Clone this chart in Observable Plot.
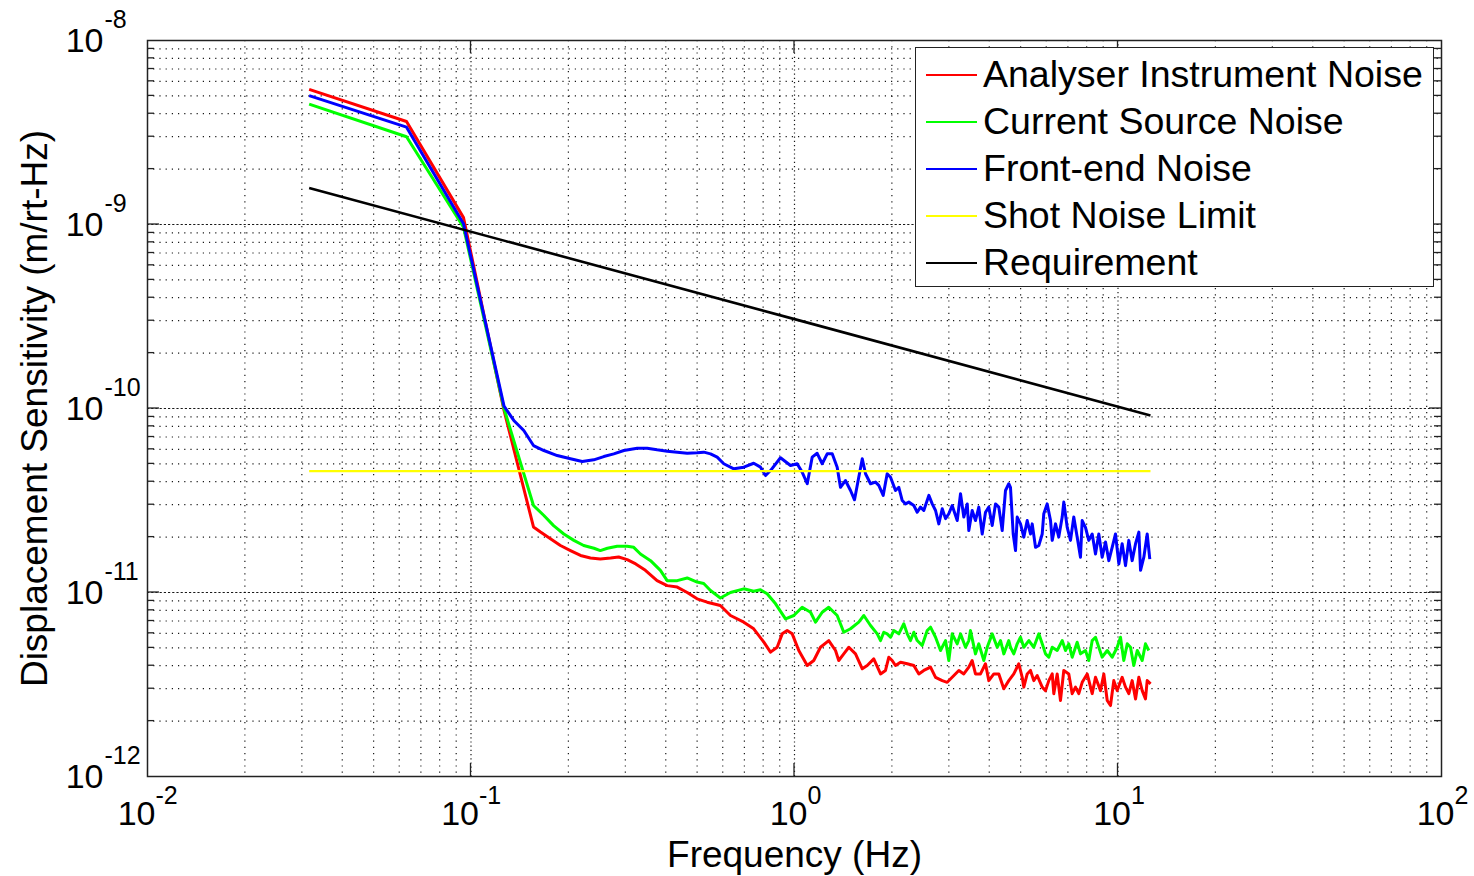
<!DOCTYPE html>
<html>
<head>
<meta charset="utf-8">
<script src="https://cdn.jsdelivr.net/npm/d3@7"></script>
<script src="https://cdn.jsdelivr.net/npm/@observablehq/plot@0.6"></script>
<style>
html,body{margin:0;padding:0;background:#fff;}
#wrap{position:relative;width:1474px;height:876px;font-family:"Liberation Sans",Arial,sans-serif;}
#legend{position:absolute;left:915px;top:47px;width:519px;height:240px;box-sizing:border-box;background:#fff;border:1.5px solid #222;padding-top:3px;}
.row{height:47px;line-height:47px;position:relative;font-size:37.5px;color:#000;white-space:nowrap;}
.row .sw{position:absolute;left:10px;top:23px;width:51px;height:2px;}
.row .lb{position:absolute;left:67px;top:0;}
</style>
</head>
<body>
<div id="wrap"></div>
<script>
// ---- data (frequency in Hz, sensitivity in m/rt-Hz) ----
const seriesNames = ["Analyser Instrument Noise","Current Source Noise","Front-end Noise","Shot Noise Limit","Requirement"];
const seriesColors = ["#ff0000","#00ff00","#0000ff","#ffff00","#000000"];

const analyserNoise = [[0.0316,5.42e-9],[0.0632,3.63e-9],[0.0948,1.09e-9],[0.1265,9.76e-11],[0.156,2.27e-11],[0.164,2.13e-11],[0.176,1.96e-11],[0.189,1.80e-11],[0.203,1.69e-11],[0.218,1.59e-11],[0.234,1.54e-11],[0.251,1.52e-11],[0.270,1.54e-11],[0.286,1.56e-11],[0.304,1.51e-11],[0.323,1.43e-11],[0.346,1.32e-11],[0.376,1.16e-11],[0.404,1.09e-11],[0.434,1.07e-11],[0.466,1.00e-11],[0.500,9.24e-12],[0.537,8.86e-12],[0.590,8.50e-12],[0.634,7.50e-12],[0.697,6.90e-12],[0.748,6.35e-12],[0.804,5.37e-12],[0.843,4.74e-12],[0.884,5.04e-12],[0.916,5.96e-12],[0.949,6.21e-12],[0.984,5.96e-12],[1.031,4.84e-12],[1.095,4.01e-12],[1.147,4.27e-12],[1.203,5.04e-12],[1.276,5.48e-12],[1.339,4.84e-12],[1.370,4.27e-12],[1.420,4.64e-12],[1.472,5.04e-12],[1.544,4.64e-12],[1.620,3.85e-12],[1.678,4.01e-12],[1.758,4.36e-12],[1.845,3.61e-12],[1.911,3.77e-12],[1.957,4.45e-12],[2.004,4.27e-12],[2.052,4.01e-12],[2.127,4.18e-12],[2.231,4.10e-12],[2.338,4.01e-12],[2.423,3.61e-12],[2.510,3.77e-12],[2.633,3.93e-12],[2.729,3.46e-12],[2.862,3.32e-12],[2.965,3.25e-12],[3.072,3.46e-12],[3.221,3.77e-12],[3.337,3.61e-12],[3.458,3.93e-12],[3.542,4.27e-12],[3.626,3.61e-12],[3.758,3.61e-12],[3.894,4.10e-12],[3.987,3.32e-12],[4.132,3.61e-12],[4.281,3.61e-12],[4.436,3.00e-12],[4.596,3.32e-12],[4.763,3.61e-12],[4.936,4.10e-12],[5.057,3.46e-12],[5.115,3.06e-12],[5.240,3.61e-12],[5.364,3.77e-12],[5.491,3.32e-12],[5.626,3.54e-12],[5.831,3.06e-12],[5.970,2.93e-12],[6.111,3.32e-12],[6.261,3.61e-12],[6.332,2.82e-12],[6.486,3.61e-12],[6.641,2.59e-12],[6.799,3.77e-12],[7.045,3.61e-12],[7.217,2.82e-12],[7.389,3.06e-12],[7.565,2.82e-12],[7.750,3.25e-12],[8.031,3.61e-12],[8.322,2.82e-12],[8.520,3.46e-12],[8.830,2.93e-12],[9.040,3.61e-12],[9.261,2.59e-12],[9.480,2.43e-12],[9.705,3.32e-12],[9.943,2.93e-12],[10.30,3.46e-12],[10.55,3.06e-12],[10.80,2.82e-12],[11.06,3.32e-12],[11.33,2.64e-12],[11.60,3.46e-12],[11.88,2.93e-12],[12.16,2.64e-12],[12.31,3.32e-12],[12.61,3.19e-12]];

const currentSourceNoise = [[0.0316,4.51e-9],[0.0632,3.0e-9],[0.0948,9.66e-10],[0.1265,1.0e-10],[0.156,2.97e-11],[0.168,2.62e-11],[0.180,2.31e-11],[0.1936,2.08e-11],[0.208,1.92e-11],[0.223,1.80e-11],[0.240,1.74e-11],[0.251,1.69e-11],[0.264,1.74e-11],[0.283,1.785e-11],[0.304,1.785e-11],[0.3185,1.76e-11],[0.334,1.62e-11],[0.359,1.49e-11],[0.385,1.32e-11],[0.404,1.16e-11],[0.434,1.16e-11],[0.466,1.20e-11],[0.500,1.14e-11],[0.524,1.12e-11],[0.550,1.025e-11],[0.590,9.33e-12],[0.634,1.00e-11],[0.697,1.047e-11],[0.748,1.016e-11],[0.785,1.034e-11],[0.823,9.84e-12],[0.874,8.68e-12],[0.938,7.19e-12],[0.995,7.50e-12],[1.056,8.32e-12],[1.121,7.81e-12],[1.161,6.90e-12],[1.218,7.81e-12],[1.276,8.32e-12],[1.355,7.50e-12],[1.420,6.08e-12],[1.490,6.35e-12],[1.580,6.90e-12],[1.638,7.50e-12],[1.718,6.62e-12],[1.802,5.96e-12],[1.845,5.48e-12],[1.888,6.08e-12],[1.934,5.96e-12],[1.981,5.71e-12],[2.028,6.21e-12],[2.101,5.96e-12],[2.177,6.76e-12],[2.231,5.96e-12],[2.284,5.48e-12],[2.338,6.08e-12],[2.395,5.48e-12],[2.481,5.15e-12],[2.572,6.21e-12],[2.633,6.48e-12],[2.729,5.71e-12],[2.827,4.84e-12],[2.930,5.48e-12],[2.999,4.27e-12],[3.072,5.96e-12],[3.184,5.26e-12],[3.260,5.96e-12],[3.378,5.04e-12],[3.458,5.48e-12],[3.499,6.21e-12],[3.626,4.64e-12],[3.713,5.26e-12],[3.848,4.27e-12],[3.942,5.04e-12],[4.084,5.96e-12],[4.233,5.04e-12],[4.334,5.48e-12],[4.436,4.64e-12],[4.596,5.48e-12],[4.652,5.04e-12],[4.763,4.64e-12],[4.880,5.26e-12],[4.996,5.71e-12],[5.115,5.04e-12],[5.302,5.48e-12],[5.491,5.04e-12],[5.691,5.96e-12],[5.831,5.26e-12],[5.970,4.64e-12],[6.111,4.45e-12],[6.261,5.04e-12],[6.486,4.84e-12],[6.722,5.48e-12],[6.882,4.84e-12],[7.045,5.26e-12],[7.217,4.45e-12],[7.478,5.37e-12],[7.656,4.64e-12],[7.933,4.84e-12],[8.122,4.27e-12],[8.322,5.48e-12],[8.520,5.71e-12],[8.722,5.04e-12],[8.935,4.45e-12],[9.261,4.84e-12],[9.594,4.45e-12],[9.943,5.04e-12],[10.18,5.71e-12],[10.42,4.27e-12],[10.68,5.26e-12],[10.93,5.04e-12],[11.19,4.01e-12],[11.47,4.84e-12],[11.88,4.27e-12],[12.16,5.26e-12],[12.45,4.84e-12]];

const frontEndNoise = [[0.0316,5.02e-9],[0.0632,3.38e-9],[0.0948,1.01e-9],[0.1265,1.03e-10],[0.1356,8.61e-11],[0.1456,7.59e-11],[0.156,6.29e-11],[0.168,5.91e-11],[0.1847,5.55e-11],[0.203,5.33e-11],[0.2207,5.15e-11],[0.2396,5.26e-11],[0.2573,5.48e-11],[0.2763,5.67e-11],[0.2968,5.91e-11],[0.3264,6.08e-11],[0.3504,6.08e-11],[0.376,5.96e-11],[0.404,5.86e-11],[0.434,5.79e-11],[0.466,5.71e-11],[0.500,5.74e-11],[0.5244,5.79e-11],[0.550,5.67e-11],[0.5768,5.44e-11],[0.6045,5.01e-11],[0.6494,4.70e-11],[0.697,4.80e-11],[0.748,5.04e-11],[0.785,4.80e-11],[0.8138,4.32e-11],[0.843,4.60e-11],[0.905,5.40e-11],[0.972,4.90e-11],[1.019,5.01e-11],[1.056,4.51e-11],[1.095,3.90e-11],[1.134,5.44e-11],[1.175,5.71e-11],[1.218,5.01e-11],[1.262,5.67e-11],[1.308,5.67e-11],[1.355,4.80e-11],[1.387,3.73e-11],[1.437,4.06e-11],[1.490,3.585e-11],[1.533,3.19e-11],[1.580,4.23e-11],[1.620,5.33e-11],[1.658,4.42e-11],[1.718,3.90e-11],[1.780,3.98e-11],[1.822,3.82e-11],[1.880,3.37e-11],[1.934,4.42e-11],[1.981,4.23e-11],[2.052,3.585e-11],[2.101,3.73e-11],[2.153,3.16e-11],[2.204,3.03e-11],[2.256,3.10e-11],[2.338,2.97e-11],[2.395,2.73e-11],[2.452,2.91e-11],[2.510,2.79e-11],[2.602,3.37e-11],[2.665,3.03e-11],[2.729,2.79e-11],[2.793,2.36e-11],[2.862,2.85e-11],[2.930,2.52e-11],[2.999,2.68e-11],[3.072,2.97e-11],[3.184,2.46e-11],[3.260,3.44e-11],[3.337,2.57e-11],[3.420,3.03e-11],[3.458,2.17e-11],[3.542,2.79e-11],[3.626,2.46e-11],[3.713,2.91e-11],[3.804,2.08e-11],[3.894,2.73e-11],[3.987,2.91e-11],[4.084,2.31e-11],[4.182,3.03e-11],[4.281,2.91e-11],[4.386,2.17e-11],[4.490,3.585e-11],[4.596,3.90e-11],[4.652,3.73e-11],[4.743,2.08e-11],[4.822,1.69e-11],[4.880,2.57e-11],[4.996,2.36e-11],[5.115,2.00e-11],[5.240,2.46e-11],[5.364,2.08e-11],[5.43,2.36e-11],[5.559,1.76e-11],[5.691,1.80e-11],[5.831,2.08e-11],[5.897,2.68e-11],[6.04,3.03e-11],[6.186,2.46e-11],[6.261,1.92e-11],[6.41,2.36e-11],[6.56,2.00e-11],[6.722,2.57e-11],[6.799,3.10e-11],[6.966,2.26e-11],[7.132,1.92e-11],[7.30,2.57e-11],[7.478,2.00e-11],[7.656,1.555e-11],[7.750,2.46e-11],[7.933,2.26e-11],[8.122,1.92e-11],[8.322,2.08e-11],[8.520,1.62e-11],[8.722,2.08e-11],[8.935,1.555e-11],[9.15,1.88e-11],[9.368,1.49e-11],[9.594,1.76e-11],[9.824,2.08e-11],[10.06,1.43e-11],[10.30,1.84e-11],[10.55,1.40e-11],[10.80,1.92e-11],[11.06,1.49e-11],[11.33,1.84e-11],[11.60,2.13e-11],[11.74,1.32e-11],[12.02,1.555e-11],[12.31,2.08e-11],[12.54,1.52e-11]];

const shotNoiseLimit = [[0.0316,4.57e-11],[12.6,4.57e-11]];
const requirement = [[0.0316,1.58e-9],[1,3.06e-10],[12.6,9.16e-11]];

const xTickValues = [0.01,0.1,1,10,100];
const yTickValues = [1e-12,1e-11,1e-10,1e-9,1e-8];
const xLabel = "Frequency (Hz)";
const yLabel = "Displacement Sensitivity (m/rt-Hz)";

// ---- grid positions (2..9 x each decade) ----
const mult = [2,3,4,5,6,7,8,9];
const xMinor = [], yMinor = [];
for (let e = -2; e <= 1; e++) for (const m of mult) xMinor.push(m * Math.pow(10, e));
for (let e = -12; e <= -9; e++) for (const m of mult) yMinor.push(m * Math.pow(10, e));
const xMajorInner = [0.1, 1, 10];
const yMajorInner = [1e-11, 1e-10, 1e-9];
const expo = d => String(Math.round(Math.log10(d)));

const font = "Liberation Sans, Arial, Helvetica, sans-serif";
const series = [analyserNoise, currentSourceNoise, frontEndNoise, shotNoiseLimit, requirement];
const widths = [3, 3, 3, 2.2, 2.6];

const chart = Plot.plot({
  width: 1474,
  height: 876,
  marginLeft: 147,
  marginRight: 33,
  marginTop: 40,
  marginBottom: 100,
  x: {type: "log", domain: [0.01, 100], axis: null},
  y: {type: "log", domain: [1e-12, 1e-8], axis: null},
  style: {fontFamily: font, background: "#fff", color: "#000", overflow: "visible"},
  marks: [
    Plot.ruleX(xMinor, {x: d => d, stroke: "#000", strokeOpacity: 0.9, strokeWidth: 1.2, strokeDasharray: "1.2,5"}),
    Plot.ruleY(yMinor, {y: d => d, stroke: "#000", strokeOpacity: 0.9, strokeWidth: 1.2, strokeDasharray: "1.2,5"}),
    Plot.ruleX(xMajorInner, {x: d => d, stroke: "#000", strokeOpacity: 0.9, strokeWidth: 1.2, strokeDasharray: "1.2,3"}),
    Plot.ruleY(yMajorInner, {y: d => d, stroke: "#000", strokeOpacity: 0.9, strokeWidth: 1.2, strokeDasharray: "2.2,2"}),
    ...series.map((s, i) => Plot.line(s, {x: d => d[0], y: d => d[1], stroke: seriesColors[i], strokeWidth: widths[i], strokeLinejoin: "round", strokeLinecap: "butt"})),
    Plot.frame({stroke: "#222", strokeWidth: 1.5}),
    // x tick labels
    Plot.text(xTickValues.filter(d => d < 1), {x: d => d, frameAnchor: "bottom", text: () => "10", textAnchor: "end", dx: 8, dy: 48, fontSize: 34}),
    Plot.text(xTickValues.filter(d => d >= 1), {x: d => d, frameAnchor: "bottom", text: () => "10", textAnchor: "end", dx: 13, dy: 48, fontSize: 34}),
    Plot.text(xTickValues.filter(d => d < 1), {x: d => d, frameAnchor: "bottom", text: expo, textAnchor: "start", dx: 8, dy: 27, fontSize: 25}),
    Plot.text(xTickValues.filter(d => d >= 1), {x: d => d, frameAnchor: "bottom", text: expo, textAnchor: "start", dx: 13, dy: 27, fontSize: 25}),
    // y tick labels
    Plot.text(yTickValues, {y: d => d, frameAnchor: "left", text: () => "10", textAnchor: "end", dx: -44, dy: 1, fontSize: 34}),
    Plot.text(yTickValues, {y: d => d, frameAnchor: "left", text: expo, textAnchor: "start", dx: -43, dy: -21, fontSize: 25}),
    // axis titles
    Plot.text([xLabel], {frameAnchor: "bottom", text: d => d, textAnchor: "middle", dy: 90, fontSize: 37}),
    Plot.text([yLabel], {frameAnchor: "left", text: d => d, textAnchor: "middle", rotate: -90, dx: -112, fontSize: 37})
  ]
});

// inward tick marks on all four sides, positioned through Plot's scales
const sx = chart.scale("x"), sy = chart.scale("y");
const svg = d3.select(chart);
const x0 = sx.apply(0.01), x1 = sx.apply(100), y0 = sy.apply(1e-12), y1 = sy.apply(1e-8);
const g = svg.append("g").attr("stroke", "#222").attr("stroke-width", 1.3);
for (const v of xMajorInner) {
  const px = sx.apply(v);
  g.append("line").attr("x1", px).attr("x2", px).attr("y1", y0).attr("y2", y0 - 13);
  g.append("line").attr("x1", px).attr("x2", px).attr("y1", y1).attr("y2", y1 + 13);
}
for (const v of yMajorInner) {
  const py = sy.apply(v);
  g.append("line").attr("x1", x0).attr("x2", x0 + 12).attr("y1", py).attr("y2", py);
  g.append("line").attr("x1", x1).attr("x2", x1 - 12).attr("y1", py).attr("y2", py);
}
for (const v of yMinor) {
  const py = sy.apply(v);
  g.append("line").attr("x1", x0).attr("x2", x0 + 7).attr("y1", py).attr("y2", py);
  g.append("line").attr("x1", x1).attr("x2", x1 - 7).attr("y1", py).attr("y2", py);
}

const wrap = document.getElementById("wrap");
wrap.appendChild(chart);

// legend box (upper right, inside the axes)
const legend = document.createElement("div");
legend.id = "legend";
seriesNames.forEach((name, i) => {
  const row = document.createElement("div");
  row.className = "row";
  const sw = document.createElement("div");
  sw.className = "sw";
  sw.style.background = seriesColors[i];
  const lb = document.createElement("span");
  lb.className = "lb";
  lb.textContent = name;
  row.appendChild(sw);
  row.appendChild(lb);
  legend.appendChild(row);
});
wrap.appendChild(legend);
</script>
</body>
</html>
